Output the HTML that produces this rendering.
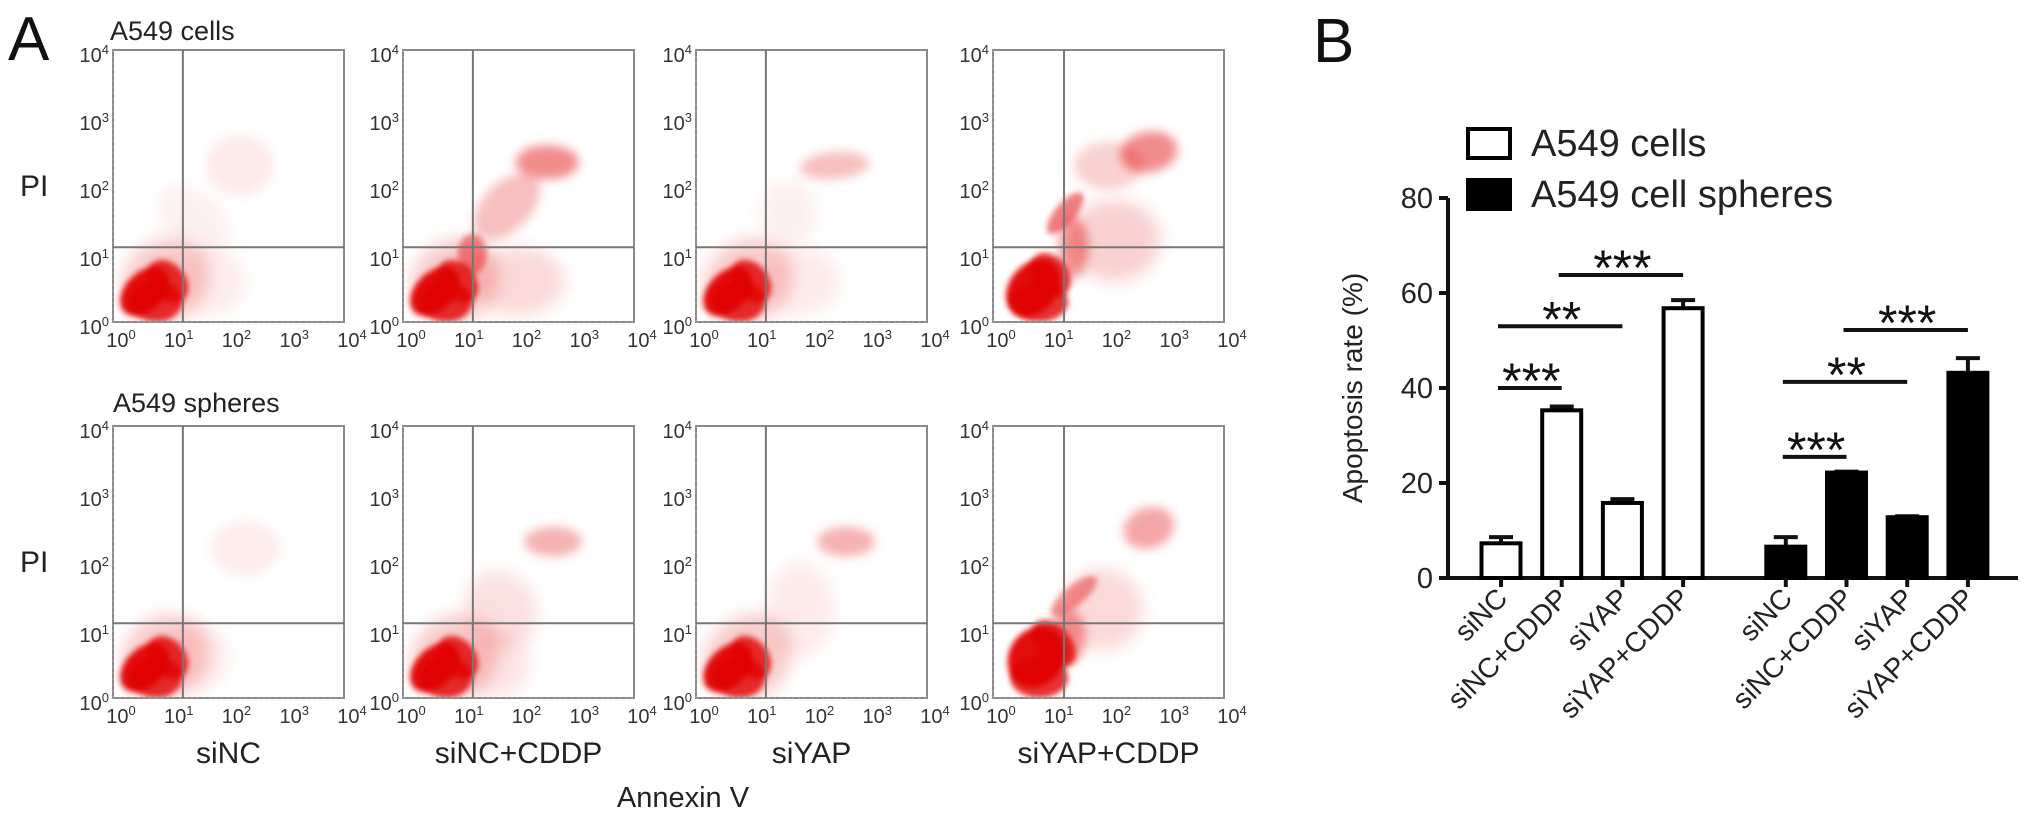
<!DOCTYPE html>
<html><head><meta charset="utf-8"><style>
html,body{margin:0;padding:0;background:#fff;}
svg{display:block;font-family:"Liberation Sans",Arial,sans-serif;}
</style></head><body>
<svg id="fig" width="2031" height="821" viewBox="0 0 2031 821" xmlns="http://www.w3.org/2000/svg">
<defs>
<filter id="b3" x="-50%" y="-50%" width="200%" height="200%"><feGaussianBlur stdDeviation="3"/></filter>
<filter id="b5" x="-50%" y="-50%" width="200%" height="200%"><feGaussianBlur stdDeviation="5"/></filter>
<filter id="b8" x="-50%" y="-50%" width="200%" height="200%"><feGaussianBlur stdDeviation="8"/></filter>
</defs>
<text x="8" y="60" font-size="62" fill="#111">A</text>
<text x="1313" y="62" font-size="62" fill="#111">B</text>
<text x="110" y="40" font-size="27" fill="#222">A549 cells</text>
<text x="113" y="412" font-size="27" fill="#222">A549 spheres</text>
<text x="20" y="196" font-size="30" fill="#222">PI</text>
<text x="20" y="572" font-size="30" fill="#222">PI</text>
<text x="683" y="807" font-size="29" fill="#222" text-anchor="middle">Annexin V</text>
<g id="flow"></g>
<g id="bars"></g>
</svg>
<script>
// ---------- Flow cytometry data (log10 coords: x, y, rx, ry in decades, angle, opacity, blur) ----------
const conditions = ["siNC","siNC+CDDP","siYAP","siYAP+CDDP"];
const panelLefts = [113,403,696,993];
const rowTops = [50,426];
const gateX = [1.21,1.21,1.21,1.23];
const gateY = 1.1;
const popTop1 = [[0.55,0.45,0.5,0.28,-45,0.95,3],[0.75,0.3,0.45,0.3,0,0.8,3],[0.95,0.6,0.3,0.35,-40,0.8,3],[0.9,0.6,0.8,0.6,-40,0.2,8],[2.2,2.3,0.6,0.45,0,0.08,5],[1.7,0.6,0.6,0.5,0,0.07,8],[1.4,1.5,0.5,0.6,-45,0.06,8]];
const popTop2 = [[0.55,0.45,0.5,0.28,-45,0.95,3],[0.75,0.3,0.45,0.3,0,0.8,3],[0.95,0.6,0.3,0.35,-40,0.8,3],[0.9,0.6,0.8,0.6,-40,0.2,8],[2.5,2.35,0.55,0.25,0,0.45,5],[1.8,1.7,0.7,0.35,-45,0.25,5],[2.0,0.6,0.8,0.5,0,0.15,8],[1.2,1.0,0.25,0.3,0,0.45,3]];
const popTop3 = [[0.55,0.45,0.5,0.28,-45,0.95,3],[0.75,0.3,0.45,0.3,0,0.8,3],[0.95,0.6,0.3,0.35,-40,0.8,3],[0.9,0.6,0.8,0.6,-40,0.2,8],[2.4,2.3,0.6,0.2,-5,0.25,5],[1.8,0.6,0.7,0.5,0,0.08,8],[1.6,1.6,0.5,0.5,0,0.06,8]];
const popTop4 = [[0.7,0.5,0.55,0.35,-50,0.95,3],[0.8,0.3,0.5,0.3,0,0.8,3],[1.0,0.7,0.3,0.35,-40,0.8,3],[1.25,1.6,0.45,0.15,-50,0.5,3],[1.4,1.1,0.25,0.45,0,0.4,5],[2.7,2.5,0.5,0.3,-10,0.45,5],[2.1,1.2,0.8,0.6,0,0.18,8],[2.0,2.3,0.6,0.35,0,0.18,5]];
const popBot1 = [[0.55,0.45,0.5,0.28,-45,0.95,3],[0.75,0.3,0.45,0.3,0,0.8,3],[0.95,0.6,0.3,0.35,-40,0.8,3],[0.9,0.6,0.8,0.6,-40,0.2,8],[2.3,2.2,0.6,0.4,0,0.07,5],[1.5,0.6,0.5,0.5,0,0.08,8]];
const popBot2 = [[0.55,0.45,0.5,0.28,-45,0.95,3],[0.75,0.3,0.45,0.3,0,0.8,3],[0.95,0.6,0.3,0.35,-40,0.8,3],[0.9,0.6,0.8,0.6,-40,0.2,8],[2.6,2.3,0.5,0.22,0,0.3,5],[1.7,1.3,0.6,0.6,-30,0.12,8],[1.6,0.5,0.6,0.5,0,0.1,8]];
const popBot3 = [[0.55,0.45,0.5,0.28,-45,0.95,3],[0.75,0.3,0.45,0.3,0,0.8,3],[0.95,0.6,0.3,0.35,-40,0.8,3],[0.9,0.6,0.8,0.6,-40,0.2,8],[2.6,2.3,0.5,0.22,0,0.3,5],[1.8,1.3,0.6,0.7,0,0.08,8]];
const popBot4 = [[0.75,0.6,0.55,0.4,-55,0.95,3],[0.8,0.3,0.5,0.3,0,0.8,3],[1.05,0.8,0.3,0.4,-40,0.8,3],[1.4,1.5,0.5,0.15,-40,0.4,3],[2.7,2.5,0.45,0.3,-20,0.35,5],[1.9,1.3,0.7,0.6,0,0.15,8],[1.3,0.9,0.3,0.4,0,0.4,5]];
const populations = [[popTop1,popTop2,popTop3,popTop4],[popBot1,popBot2,popBot3,popBot4]];
const decades = [0,1,2,3,4];

// ---------- Bar chart data ----------
const barCategories = ["siNC","siNC+CDDP","siYAP","siYAP+CDDP","siNC","siNC+CDDP","siYAP","siYAP+CDDP"];
const cellsValues = [7.3,35.3,15.8,56.8];
const cellsErrors = [1.3,0.8,0.8,1.7];
const spheresValues = [6.6,22.2,12.8,43.2];
const spheresErrors = [2.0,0.2,0.2,3.1];
const yTicks = [0,20,40,60,80];
const sigFrom = [0,0,1,4,4,5];
const sigTo = [1,2,3,5,6,7];
const sigLevel = [40,53,63.8,25.5,41.3,52.2];
const sigLabels = ["***","**","***","***","**","***"];

const NS="http://www.w3.org/2000/svg";
function mk(tag, attrs, parent){const e=document.createElementNS(NS,tag);for(const k in attrs)e.setAttribute(k,attrs[k]);if(parent)parent.appendChild(e);return e;}

// ---------- Flow panels ----------
const flow=document.getElementById('flow');
const PW=231, PH=272, DX=PW/4, DY=PH/4;
const defs=document.querySelector('defs');
for(let r=0;r<2;r++){
  for(let c=0;c<4;c++){
    const L=panelLefts[c], T=rowTops[r], B=T+PH;
    const fx=v=>L+v*DX, fy=v=>B-v*DY;
    const g=mk('g',{},flow);
    
    
    const cp=mk('clipPath',{id:'cp'+r+c},defs);
    mk('rect',{x:L,y:T,width:PW,height:PH},cp);
    const dots=mk('g',{'clip-path':'url(#cp'+r+c+')'},g);
    populations[r][c].forEach(p=>{
      const cx=fx(p[0]), cy=fy(p[1]);
      const el=mk('ellipse',{cx:cx,cy:cy,rx:p[2]*DX,ry:p[3]*DY,fill:'#e00000','fill-opacity':p[5],
        filter:'url(#b'+p[6]+')',transform:'rotate('+p[4]+' '+cx+' '+cy+')'},dots);
      
      
    });
    const fr=mk('rect',{x:L,y:T,width:PW,height:PH,fill:'none',stroke:'#8a8a8a','stroke-width':2},g);
    
    
    const gv=mk('line',{x1:fx(gateX[c]),x2:fx(gateX[c]),y1:T,y2:B,stroke:'#777','stroke-width':2},g);
    
    
    const gh=mk('line',{x1:L,x2:L+PW,y1:fy(gateY),y2:fy(gateY),stroke:'#777','stroke-width':2},g);
    
    
    mk('line',{x1:L,x2:L+PW,y1:B,y2:B,stroke:'#999','stroke-width':2,'stroke-dasharray':'2 4'},g);
    mk('line',{x1:L,x2:L,y1:T,y2:B,stroke:'#999','stroke-width':2,'stroke-dasharray':'2 4'},g);
    decades.forEach(d=>{
      const yl=mk('text',{x:L-4,y:fy(d)+12,'font-size':20,fill:'#333','text-anchor':'end'},g);
      yl.innerHTML='10<tspan dy="-8" font-size="13">'+d+'</tspan>';
      
      
      const xl=mk('text',{x:fx(d)+8,y:B+25,'font-size':20,fill:'#333','text-anchor':'middle'},g);
      xl.innerHTML='10<tspan dy="-8" font-size="13">'+d+'</tspan>';
      
      
    });
    if(r===1){
      const t=mk('text',{x:L+PW/2,y:763,'font-size':30,fill:'#222','text-anchor':'middle'},g);
      t.textContent=conditions[c];
      
      
    }
  }
}

// ---------- Bar chart ----------
const bars=document.getElementById('bars');
const Y0=578, PXU=4.75, AX=1448, AXEND=2018;
const ys=v=>Y0-v*PXU;
const xc=i=>1501+60.7*i+(i>=4?42:0);
const BW=43;
const ax=mk('line',{x1:AX,x2:AX,y1:ys(80),y2:Y0+2,stroke:'#111','stroke-width':4},bars);


const xa=mk('line',{x1:AX-2,x2:AXEND,y1:Y0,y2:Y0,stroke:'#111','stroke-width':4},bars);


yTicks.forEach(t=>{
  mk('line',{x1:AX-9,x2:AX,y1:ys(t),y2:ys(t),stroke:'#111','stroke-width':4},bars);
  const tl=mk('text',{x:AX-15,y:ys(t)+10,'font-size':29,fill:'#222','text-anchor':'end'},bars);
  tl.textContent=t;
  
  
});
const yt=mk('text',{x:0,y:0,'font-size':28,fill:'#222','text-anchor':'middle',transform:'translate(1362,388) rotate(-90)'},bars);
yt.textContent='Apoptosis rate (%)';


const allVals=cellsValues.concat(spheresValues), allErr=cellsErrors.concat(spheresErrors);
barCategories.forEach((cat,i)=>{
  const x=xc(i), v=allVals[i], e=allErr[i], filled=i>=4;
  mk('line',{x1:x,x2:x,y1:ys(v),y2:ys(v+e),stroke:'#111','stroke-width':4},bars);
  mk('line',{x1:x-12,x2:x+12,y1:ys(v+e),y2:ys(v+e),stroke:'#111','stroke-width':4},bars);
  const b=mk('rect',{x:x-BW/2+2,y:ys(v),width:BW-4,height:Y0-ys(v),fill:filled?'#000':'#fff',stroke:'#000','stroke-width':4},bars);
  
  
  mk('line',{x1:x,x2:x,y1:Y0,y2:Y0+9,stroke:'#111','stroke-width':4},bars);
  const l=mk('text',{x:0,y:0,'font-size':28,fill:'#222','text-anchor':'end',transform:'translate('+(x+8)+','+(Y0+22)+') rotate(-45)'},bars);
  l.textContent=cat;
  
  
});
sigFrom.forEach((f,k)=>{
  const y=ys(sigLevel[k]);
  const ln=mk('line',{x1:xc(f)-3,x2:xc(sigTo[k]),y1:y,y2:y,stroke:'#111','stroke-width':4},bars);
  
  
  const s=mk('text',{x:(xc(f)+xc(sigTo[k]))/2,y:y+10,'font-size':50,fill:'#111','text-anchor':'middle'},bars);
  s.textContent=sigLabels[k];
  
  
});
// legend
const lg=mk('g',{},bars);


mk('rect',{x:1468,y:129,width:42,height:29,fill:'#fff',stroke:'#000','stroke-width':4},lg);
mk('rect',{x:1466,y:178,width:46,height:33,fill:'#000'},lg);
const l1=mk('text',{x:1531,y:156,'font-size':38,fill:'#222'},lg);
l1.textContent='A549 cells';


const l2=mk('text',{x:1531,y:207,'font-size':38,fill:'#222'},lg);
l2.textContent='A549 cell spheres';


</script>
</body></html>
